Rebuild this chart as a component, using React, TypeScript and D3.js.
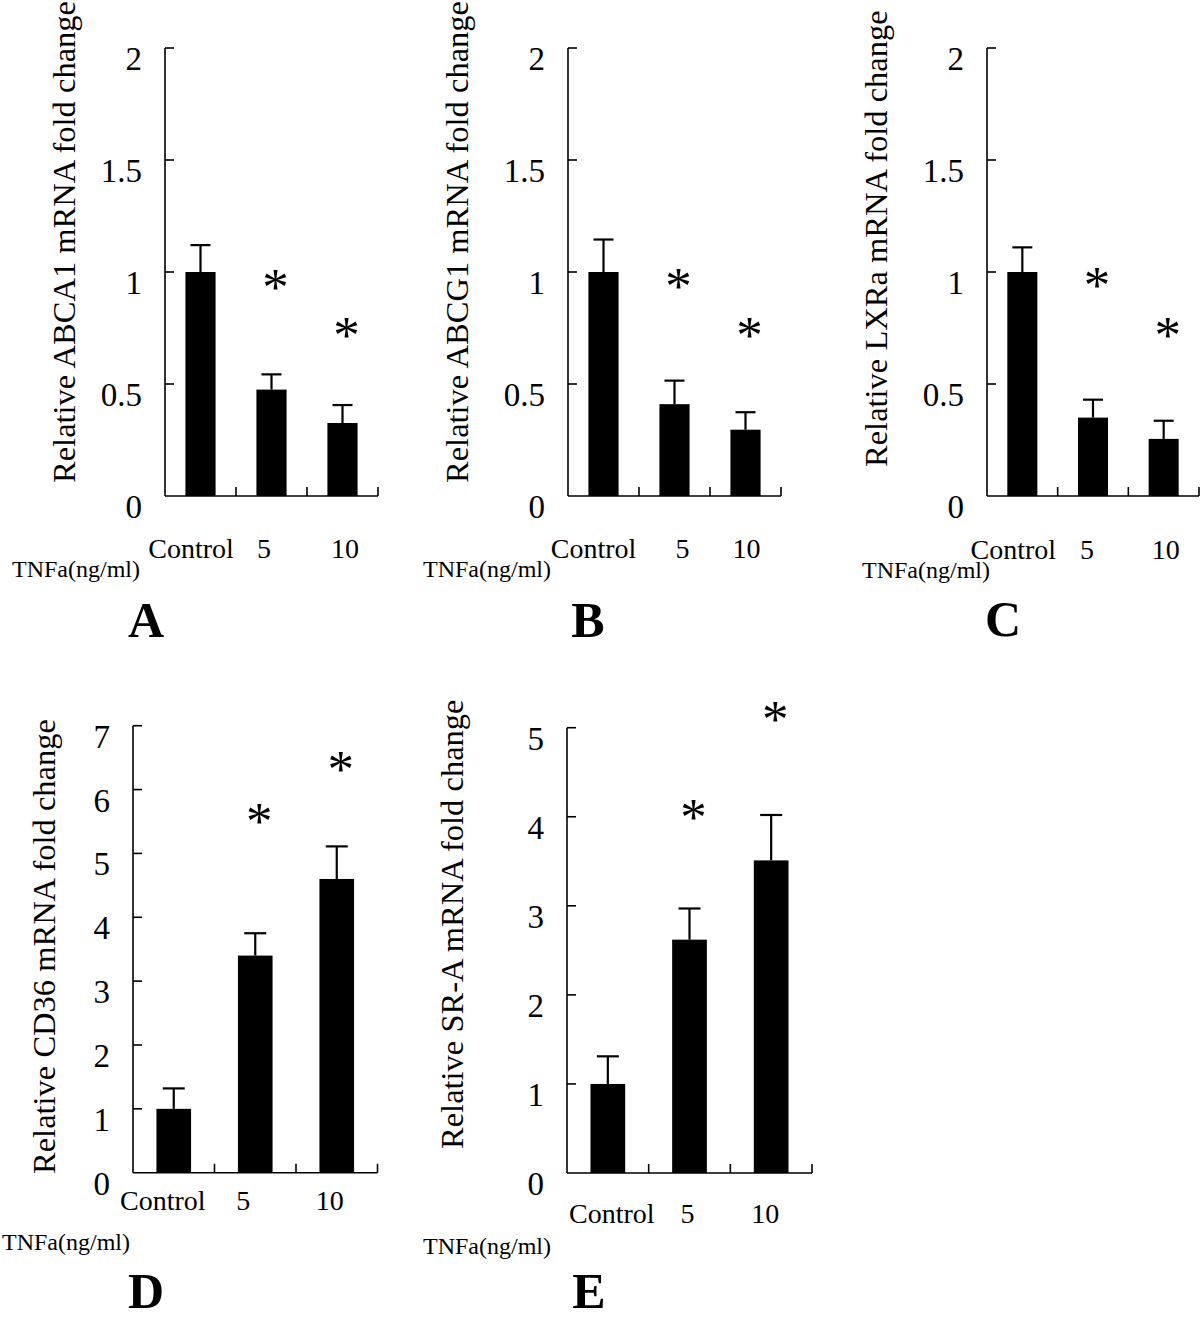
import * as d3 from 'd3';
import React, { useEffect, useRef } from 'react';

// shared x categories and labels
const categories = ['Control', '5', '10'];
const doseLabel = 'TNFa(ng/ml)';

// A: ABCA1
const abca1Mean = [1.0, 0.475, 0.326];
const abca1Se = [0.12, 0.068, 0.08];
const abca1Star: (number | null)[] = [null, 0.96, 0.747];

// B: ABCG1
const abcg1Mean = [1.0, 0.41, 0.296];
const abcg1Se = [0.145, 0.105, 0.078];
const abcg1Star: (number | null)[] = [null, 0.966, 0.745];

// C: LXRa
const lxraMean = [1.0, 0.35, 0.255];
const lxraSe = [0.11, 0.08, 0.081];
const lxraStar: (number | null)[] = [null, 0.97, 0.745];

// D: CD36
const cd36Mean = [1.0, 3.4, 4.6];
const cd36Se = [0.32, 0.35, 0.51];
const cd36Star: (number | null)[] = [null, 5.6, 6.42];

// E: SR-A
const sraMean = [1.0, 2.62, 3.51];
const sraSe = [0.31, 0.35, 0.51];
const sraStar: (number | null)[] = [null, 4.07, 5.17];

const lowTicks = [0, 0.5, 1, 1.5, 2];
const cd36Ticks = [0, 1, 2, 3, 4, 5, 6, 7];
const sraTicks = [0, 1, 2, 3, 4, 5];

const FONT = '"Liberation Serif", "Times New Roman", serif';

const panels = [
  {
    letter: 'A', title: 'Relative ABCA1 mRNA fold change',
    mean: abca1Mean, se: abca1Se, star: abca1Star, ticks: lowTicks,
    x0: 165, x1: 378, yTop: 48, yZero: 496,
    titleX: 75, titleBottom: 483, catY: 558, catShift: [-9.5, -7.5, 2.5],
    doseX: 12, doseY: 577, letterX: 146, letterY: 637, cap: 20,
  },
  {
    letter: 'B', title: 'Relative ABCG1 mRNA fold change',
    mean: abcg1Mean, se: abcg1Se, star: abcg1Star, ticks: lowTicks,
    x0: 568, x1: 781, yTop: 48, yZero: 496,
    titleX: 468, titleBottom: 483, catY: 558, catShift: [-10, 8, 1],
    doseX: 423, doseY: 577, letterX: 588, letterY: 637, cap: 20,
  },
  {
    letter: 'C', title: 'Relative LXRa mRNA fold change',
    mean: lxraMean, se: lxraSe, star: lxraStar, ticks: lowTicks,
    x0: 987, x1: 1199, yTop: 48, yZero: 496,
    titleX: 887, titleBottom: 467, catY: 559, catShift: [-9, -6, 2],
    doseX: 862, doseY: 578, letterX: 1003, letterY: 636, cap: 20,
  },
  {
    letter: 'D', title: 'Relative CD36 mRNA fold change',
    mean: cd36Mean, se: cd36Se, star: cd36Star, ticks: cd36Ticks,
    x0: 133, x1: 377.5, yTop: 725.7, yZero: 1172.7,
    titleX: 55, titleBottom: 1174, catY: 1210, catShift: [-11, -12, -7],
    doseX: 2, doseY: 1250, letterX: 146, letterY: 1308, cap: 22,
  },
  {
    letter: 'E', title: 'Relative SR-A mRNA fold change',
    mean: sraMean, se: sraSe, star: sraStar, ticks: sraTicks,
    x0: 567, x1: 812, yTop: 727.7, yZero: 1173,
    titleX: 463, titleBottom: 1149, catY: 1223, catShift: [4, -2, -6],
    doseX: 423, doseY: 1254, letterX: 589, letterY: 1308, cap: 22,
  },
];

export default function App() {
  const ref = useRef<SVGSVGElement>(null);

  useEffect(() => {
    if (!ref.current) return;
    const svg = d3.select(ref.current);
    svg.selectAll('*').remove();

    panels.forEach(p => {
      const g = svg.append('g');
      const x = d3
        .scaleBand()
        .domain(categories)
        .range([p.x0, p.x1])
        .paddingInner(0.575)
        .paddingOuter(0.2875);
      const y = d3
        .scaleLinear()
        .domain([0, p.ticks[p.ticks.length - 1]])
        .range([p.yZero, p.yTop]);
      const step = x.step();

      // axes
      g.append('line')
        .attr('x1', p.x0).attr('x2', p.x0)
        .attr('y1', y(0)).attr('y2', p.yTop)
        .attr('stroke', '#000').attr('stroke-width', 1.6);
      g.append('line')
        .attr('x1', p.x0).attr('x2', p.x1)
        .attr('y1', y(0)).attr('y2', y(0))
        .attr('stroke', '#000').attr('stroke-width', 1.6);

      // y ticks point inward
      g.selectAll('.ytick')
        .data(p.ticks.slice(1))
        .enter()
        .append('line')
        .attr('x1', p.x0).attr('x2', p.x0 + 9)
        .attr('y1', d => y(d)).attr('y2', d => y(d))
        .attr('stroke', '#000').attr('stroke-width', 1.6);
      g.selectAll('.ylab')
        .data(p.ticks)
        .enter()
        .append('text')
        .attr('x', p.x0 - 23)
        .attr('y', d => y(d) + 22)
        .attr('text-anchor', 'end')
        .attr('font-family', FONT)
        .attr('font-size', 33)
        .text(d => String(d));

      // x ticks at band boundaries
      g.selectAll('.xtick')
        .data(categories)
        .enter()
        .append('line')
        .attr('x1', (d, i) => p.x0 + step * (i + 1))
        .attr('x2', (d, i) => p.x0 + step * (i + 1))
        .attr('y1', y(0)).attr('y2', y(0) - 9)
        .attr('stroke', '#000').attr('stroke-width', 1.6);

      // bars
      g.selectAll('.bar')
        .data(p.mean)
        .enter()
        .append('rect')
        .attr('x', (d, i) => x(categories[i]) as number)
        .attr('width', x.bandwidth())
        .attr('y', d => y(d))
        .attr('height', d => y(0) - y(d))
        .attr('fill', '#000');

      // error bars
      const cx = (i: number) => (x(categories[i]) as number) + x.bandwidth() / 2;
      p.mean.forEach((m, i) => {
        const top = y(m + p.se[i]);
        g.append('line')
          .attr('x1', cx(i)).attr('x2', cx(i))
          .attr('y1', y(m)).attr('y2', top)
          .attr('stroke', '#000').attr('stroke-width', 2.2);
        g.append('line')
          .attr('x1', cx(i) - p.cap / 2).attr('x2', cx(i) + p.cap / 2)
          .attr('y1', top).attr('y2', top)
          .attr('stroke', '#000').attr('stroke-width', 2.2);
      });

      // significance marks
      p.star.forEach((s, i) => {
        if (s === null) return;
        g.append('text')
          .attr('x', cx(i) + 4)
          .attr('y', y(s) + 24)
          .attr('text-anchor', 'middle')
          .attr('font-family', FONT)
          .attr('font-size', 53)
          .text('*');
      });

      // category labels
      g.selectAll('.xlab')
        .data(categories)
        .enter()
        .append('text')
        .attr('x', (d, i) => cx(i) + p.catShift[i])
        .attr('y', p.catY)
        .attr('text-anchor', 'middle')
        .attr('font-family', FONT)
        .attr('font-size', 28)
        .text(d => d);

      // y title
      g.append('text')
        .attr('transform', `translate(${p.titleX},${p.titleBottom}) rotate(-90)`)
        .attr('font-family', FONT)
        .attr('font-size', 32.5)
        .text(p.title);

      g.append('text')
        .attr('x', p.doseX)
        .attr('y', p.doseY)
        .attr('font-family', FONT)
        .attr('font-size', 24)
        .text(doseLabel);

      g.append('text')
        .attr('x', p.letterX)
        .attr('y', p.letterY)
        .attr('text-anchor', 'middle')
        .attr('font-family', FONT)
        .attr('font-weight', 'bold')
        .attr('font-size', 50)
        .text(p.letter);
    });
  }, []);

  return (
    <svg
      ref={ref}
      width={1200}
      height={1320}
      style={{ position: 'absolute', left: 0, top: 0, background: '#fff' }}
    />
  );
}
